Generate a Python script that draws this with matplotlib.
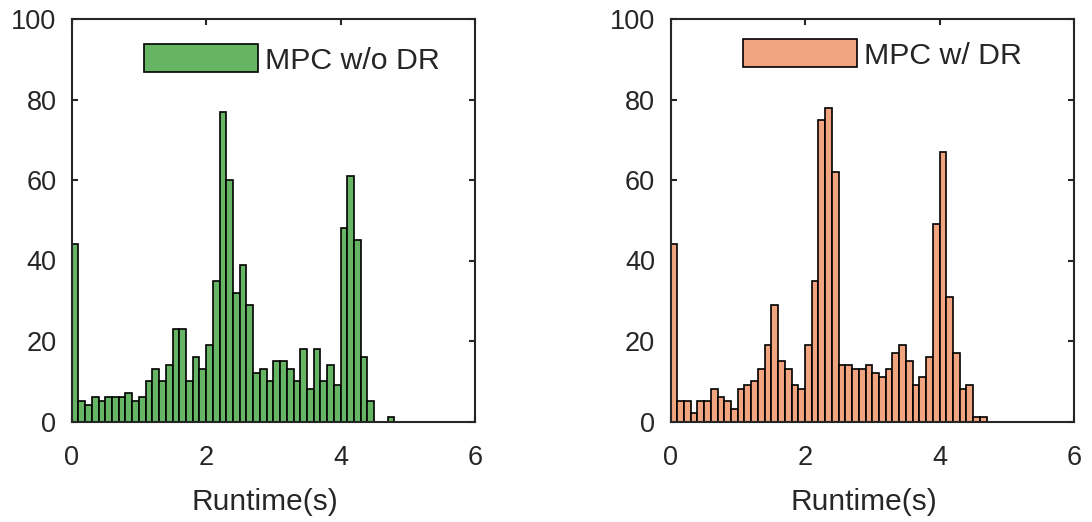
import numpy as np
import matplotlib
matplotlib.use("Agg")
import matplotlib.pyplot as plt

plt.rcParams["font.family"] = ["Liberation Sans", "DejaVu Sans"]

# Histogram counts per 0.1 s runtime bin, starting at 0 s
bin_width = 0.1
counts_without_dr = [44, 5, 4, 6, 5, 6, 6, 6, 7, 5,
                     6, 10, 13, 10, 14, 23, 23, 10, 16, 13,
                     19, 35, 77, 60, 32, 39, 29, 12, 13, 10,
                     15, 15, 13, 10, 18, 8, 18, 10, 14, 9,
                     48, 61, 45, 16, 5, 0, 0, 1]
counts_with_dr = [44, 5, 5, 2, 5, 5, 8, 6, 5, 3,
                  8, 9, 10, 13, 19, 29, 15, 13, 9, 8,
                  19, 35, 75, 78, 62, 14, 14, 13, 13, 14,
                  12, 11, 13, 17, 19, 15, 9, 11, 16, 49,
                  67, 31, 17, 8, 9, 1, 1]

labels = ["MPC w/o DR", "MPC w/ DR"]
colors = ["#66B565", "#F0A47F"]
x_ticks = [0, 2, 4, 6]
y_ticks = [0, 20, 40, 60, 80, 100]
x_label = "Runtime(s)"

text_color = "#262626"
W, H = 1092, 522
fig = plt.figure(figsize=(W / 100, H / 100), dpi=100)

axes_boxes = [
    (71.7 / W, (H - 421.5) / H, 403.3 / W, 402.5 / H),
    (670.5 / W, (H - 421.5) / H, 403.5 / W, 402.5 / H),
]
legend_anchor_px = [(144, 59.5), (743, 54.5)]

for box, counts, label, color, anchor in zip(
        axes_boxes, [counts_without_dr, counts_with_dr], labels, colors, legend_anchor_px):
    ax = fig.add_axes(box)
    counts = np.asarray(counts)
    left_edges = np.arange(len(counts)) * bin_width
    ax.bar(left_edges, counts, width=bin_width, align="edge",
           color=color, edgecolor="black", linewidth=1.2, label=label, zorder=2)

    ax.set_xlim(0, 6)
    ax.set_ylim(0, 100)
    ax.set_xticks(x_ticks)
    ax.set_yticks(y_ticks)
    for s in ax.spines.values():
        s.set_linewidth(1.5)
        s.set_color(text_color)
        s.set_zorder(3)
    ax.tick_params(direction="in", length=4, width=1.5, color=text_color,
                   top=True, right=True, labelsize=19.5, labelcolor=text_color)
    ax.tick_params(axis="x", pad=17)
    ax.tick_params(axis="y", pad=11)
    ax.set_xlabel(x_label, fontsize=21.5, color=text_color)
    ax.xaxis.set_label_coords(0.48, -0.165)

    # Legend placed without a frame, with a long rectangular handle
    ax_x0 = box[0] * W
    ax_y0 = H - (box[1] + box[3]) * H
    ax_w = box[2] * W
    ax_h = box[3] * H
    ax_anchor = ((anchor[0] - ax_x0) / ax_w, 1 - (anchor[1] - ax_y0) / ax_h)
    ax.legend(loc="center left", bbox_to_anchor=ax_anchor, frameon=False,
              fontsize=21.8, handlelength=3.75, handleheight=1.02,
              handletextpad=0.25, borderpad=0, borderaxespad=0,
              labelcolor=text_color)

fig.savefig("out.png", dpi=100)
